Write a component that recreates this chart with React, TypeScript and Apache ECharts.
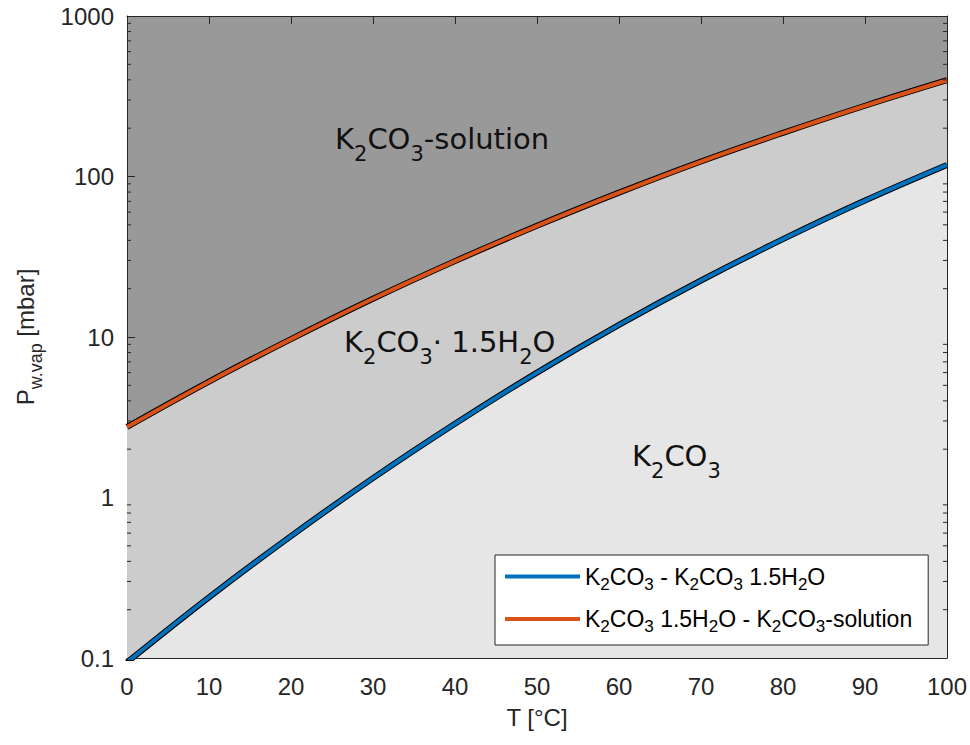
import React, { useEffect, useRef } from "react";
import * as echarts from "echarts";

// Temperature [°C]
const temperature = [0, 10, 20, 30, 40, 50, 60, 70, 80, 90, 100];
// K2CO3 - K2CO3·1.5H2O equilibrium vapour pressure [mbar]
const hydrateP = [0.094, 0.239, 0.575, 1.32, 2.88, 6.0, 11.9, 22.5, 40.7, 70.8, 118];
// K2CO3·1.5H2O - K2CO3-solution (deliquescence) vapour pressure [mbar]
const solutionP = [2.75, 5.27, 9.7, 17.3, 29.7, 49.3, 79.3, 124, 187, 276, 398];
// y tick labels
const yTicks = [0.1, 1, 10, 100, 1000];

const BLUE_NAME = "K2CO3 - K2CO3 1.5H2O";
const ORANGE_NAME = "K2CO3 1.5H2O - K2CO3-solution";

const AX = "#262626";
const TICK_FONT = "Liberation Sans";
const REGION_FONT = "DejaVu Sans";

export default function App() {
  const ref = useRef<HTMLDivElement>(null);

  useEffect(() => {
    if (!ref.current) return;
    const chart = echarts.init(ref.current, undefined, { renderer: "svg" });

    const blueData = temperature.map((t, i) => [t, hydrateP[i]]);
    const orangeData = temperature.map((t, i) => [t, solutionP[i]]);

    const legendRich = {
      n: { fontFamily: TICK_FONT, fontSize: 23, color: "#000", lineHeight: 32 },
      s: { fontFamily: TICK_FONT, fontSize: 17, color: "#000", lineHeight: 12, verticalAlign: "bottom" },
    };
    const legendText: Record<string, string> = {
      [BLUE_NAME]: "{n|K}{s|2}{n|CO}{s|3}{n| - K}{s|2}{n|CO}{s|3}{n| 1.5H}{s|2}{n|O}",
      [ORANGE_NAME]: "{n|K}{s|2}{n|CO}{s|3}{n| 1.5H}{s|2}{n|O - K}{s|2}{n|CO}{s|3}{n|-solution}",
    };

    const axisCommon = {
      axisLine: { show: true, onZero: false, lineStyle: { color: AX, width: 1 } },
      axisTick: { show: true, inside: true, length: 8, lineStyle: { color: AX, width: 1 } },
      splitLine: { show: false },
    };

    const option: any = {
      animation: false,
      backgroundColor: "#fff",
      grid: {
        left: 127,
        right: 23,
        top: 16,
        bottom: 87,
        show: true,
        backgroundColor: "#999999",
        borderWidth: 0,
      },
      xAxis: [
        {
          type: "value",
          min: 0,
          max: 100,
          interval: 10,
          position: "bottom",
          ...axisCommon,
          axisLabel: { color: AX, fontSize: 24, fontFamily: TICK_FONT, margin: 16 },
          name: "T [°C]",
          nameLocation: "middle",
          nameGap: 47,
          nameTextStyle: { color: AX, fontSize: 24, fontFamily: TICK_FONT },
        },
        {
          type: "value",
          min: 0,
          max: 100,
          interval: 10,
          position: "top",
          ...axisCommon,
          axisLabel: { show: false },
        },
      ],
      yAxis: [
        {
          type: "log",
          logBase: 10,
          min: 0.1,
          max: 1000,
          position: "left",
          ...axisCommon,
          axisLabel: {
            color: AX,
            fontSize: 24,
            fontFamily: TICK_FONT,
            margin: 13,
            formatter: (v: number) => {
              const t = yTicks.find((k) => Math.abs(k - v) / k < 1e-6);
              return t !== undefined ? String(t) : "";
            },
          },
          name: "{a|P}{s|w.vap}{a| [mbar]}",
          nameLocation: "middle",
          nameGap: 82,
          nameTextStyle: {
            color: AX,
            rich: {
              a: { fontSize: 24, fontFamily: TICK_FONT, color: AX, lineHeight: 40 },
              s: { fontSize: 18, fontFamily: TICK_FONT, color: AX, lineHeight: 16, verticalAlign: "bottom" },
            },
          },
        },
        {
          type: "log",
          logBase: 10,
          min: 0.1,
          max: 1000,
          position: "right",
          ...axisCommon,
          axisLabel: { show: false },
        },
      ],
      legend: {
        data: [BLUE_NAME, ORANGE_NAME],
        orient: "vertical",
        left: 495,
        top: 555,
        backgroundColor: "#ffffff",
        borderColor: AX,
        borderWidth: 1,
        padding: [10, 16, 10, 10],
        itemGap: 15,
        itemWidth: 75,
        itemHeight: 4,
        icon: "rect",
        selectedMode: false,
        formatter: (name: string) => legendText[name] || name,
        textStyle: { fontFamily: TICK_FONT, fontSize: 23, color: "#000", rich: legendRich },
      },
      series: [
        {
          name: "_orangeArea",
          type: "line",
          data: orangeData,
          smooth: 0.4,
          showSymbol: false,
          silent: true,
          lineStyle: { width: 0 },
          areaStyle: { color: "#cccccc", opacity: 1, origin: "start" },
          z: 1,
        },
        {
          name: "_blueArea",
          type: "line",
          data: blueData,
          smooth: 0.4,
          showSymbol: false,
          silent: true,
          lineStyle: { width: 0 },
          areaStyle: { color: "#e6e6e6", opacity: 1, origin: "start" },
          z: 2,
        },
        {
          name: "_orangeEdge",
          type: "line",
          data: orangeData,
          smooth: 0.4,
          showSymbol: false,
          silent: true,
          lineStyle: { width: 6, color: "#000" },
          z: 3,
        },
        {
          name: ORANGE_NAME,
          type: "line",
          data: orangeData,
          smooth: 0.4,
          showSymbol: false,
          silent: true,
          itemStyle: { color: "#D95319" },
          lineStyle: { width: 4, color: "#D95319" },
          z: 4,
        },
        {
          name: "_blueEdge",
          type: "line",
          data: blueData,
          smooth: 0.4,
          showSymbol: false,
          silent: true,
          lineStyle: { width: 6, color: "#000" },
          z: 5,
        },
        {
          name: BLUE_NAME,
          type: "line",
          data: blueData,
          smooth: 0.4,
          showSymbol: false,
          silent: true,
          itemStyle: { color: "#0072BD" },
          lineStyle: { width: 4, color: "#0072BD" },
          z: 6,
        },
      ],
    };

    chart.setOption(option);

    // minor log ticks and region labels
    const x0 = chart.convertToPixel({ xAxisIndex: 0 }, 0) as number;
    const x1 = chart.convertToPixel({ xAxisIndex: 0 }, 100) as number;
    const graphics: any[] = [];
    [0.1, 1, 10, 100].forEach((base) => {
      for (let k = 2; k <= 9; k++) {
        const y = chart.convertToPixel({ yAxisIndex: 0 }, base * k) as number;
        graphics.push({
          type: "line",
          shape: { x1: x0, y1: y, x2: x0 + 4, y2: y },
          style: { stroke: AX, lineWidth: 1 },
          z: 100,
          silent: true,
        });
        graphics.push({
          type: "line",
          shape: { x1: x1 - 4, y1: y, x2: x1, y2: y },
          style: { stroke: AX, lineWidth: 1 },
          z: 100,
          silent: true,
        });
      }
    });

    const regionRich = {
      n: { fontFamily: REGION_FONT, fontSize: 29, color: "#111", lineHeight: 50 },
      s: { fontFamily: REGION_FONT, fontSize: 21, color: "#111", lineHeight: 21, verticalAlign: "bottom" },
    };
    const regionLabel = (x: number, y: number, text: string) => ({
      type: "text",
      x,
      y,
      z: 100,
      silent: true,
      style: { text, rich: regionRich, align: "left", verticalAlign: "middle", fill: "#111" },
    });
    graphics.push(regionLabel(335, 139, "{n|K}{s|2}{n|CO}{s|3}{n|-solution}"));
    graphics.push(regionLabel(344, 342, "{n|K}{s|2}{n|CO}{s|3}{n|· 1.5H}{s|2}{n|O}"));
    graphics.push(regionLabel(632, 456, "{n|K}{s|2}{n|CO}{s|3}"));

    chart.setOption({ graphic: graphics });

    return () => chart.dispose();
  }, []);

  return (
    <div
      ref={ref}
      style={{ position: "fixed", left: 0, top: 0, width: 970, height: 745, background: "#fff" }}
    />
  );
}
